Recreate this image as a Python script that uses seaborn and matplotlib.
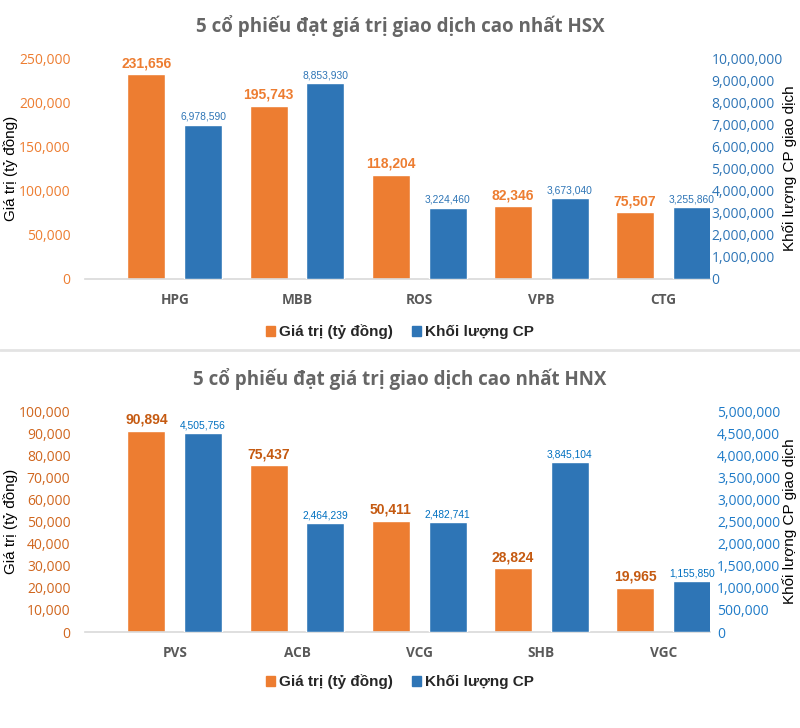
import matplotlib
matplotlib.use('Agg')
import matplotlib.pyplot as plt
from matplotlib.lines import Line2D
from matplotlib.patches import Patch
from matplotlib.ticker import FuncFormatter, MultipleLocator
import numpy as np
import pandas as pd
import seaborn as sns

# ---- data ----
S_VAL = 'Giá trị (tỷ đồng)'
S_VOL = 'Khối lượng CP'

hsx_codes = ['HPG', 'MBB', 'ROS', 'VPB', 'CTG']
hsx_value = [231656, 195743, 118204, 82346, 75507]
hsx_volume = [6978590, 8853930, 3224460, 3673040, 3255860]

hnx_codes = ['PVS', 'ACB', 'VCG', 'SHB', 'VGC']
hnx_value = [90894, 75437, 50411, 28824, 19965]
hnx_volume = [4505756, 2464239, 2482741, 3845104, 1155850]

ORANGE = '#ED7D31'
BLUE = '#2E75B6'
GREY = '#595959'

sns.set_theme(style='white')
plt.rcParams['font.family'] = ['Open Sans', 'DejaVu Sans']

W, H = 800, 728
fig = plt.figure(figsize=(8, 7.28), dpi=100)

fmt = FuncFormatter(lambda v, p: f'{v:,.0f}')
LAB_FONT = 'Liberation Sans'


def long_df(codes, vals, series):
    other = S_VOL if series == S_VAL else S_VAL
    return pd.DataFrame({
        'ma': codes + codes,
        'series': [series] * len(codes) + [other] * len(codes),
        'v': list(vals) + [np.nan] * len(codes),
    })


def real_bars(a, n):
    # the container holding the drawn series (the NaN one is empty)
    for c in a.containers:
        if len(c) == n and all(np.isfinite(b.get_height()) for b in c):
            return c
    return None


def panel(top_px, zero_px, title, title_px, codes, vals, vols,
          lmax, lstep, rmax, rstep, lcol, rcol, lab_o, lab_b, legend_px, rpad):
    left, right = 85 / W, 710 / W
    ax = fig.add_axes([left, 1 - zero_px / H, right - left, (zero_px - top_px) / H])

    sns.barplot(data=long_df(codes, vals, S_VAL), x='ma', y='v', hue='series',
                hue_order=[S_VAL, S_VOL], palette=[ORANGE, BLUE], saturation=1,
                width=0.93, gap=0.333, errorbar=None, legend=False, ax=ax)
    ax2 = ax.twinx()
    sns.barplot(data=long_df(codes, vols, S_VOL), x='ma', y='v', hue='series',
                hue_order=[S_VAL, S_VOL], palette=[ORANGE, BLUE], saturation=1,
                width=0.93, gap=0.333, errorbar=None, legend=False, ax=ax2)

    ax.set_xlim(-0.735, 4.38)
    ax.set_ylim(0, lmax)
    ax2.set_ylim(0, rmax)
    ax.yaxis.set_major_locator(MultipleLocator(lstep))
    ax2.yaxis.set_major_locator(MultipleLocator(rstep))
    ax.yaxis.set_major_formatter(fmt)
    ax2.yaxis.set_major_formatter(fmt)

    for a in (ax, ax2):
        for s in a.spines.values():
            s.set_visible(False)
        a.set_xlabel('')
        a.set_ylabel('')
        a.grid(False)
    ax.spines['bottom'].set_visible(True)
    ax.spines['bottom'].set_color('#D9D9D9')
    ax.spines['bottom'].set_linewidth(1.2)

    ax.tick_params(axis='y', length=0, pad=10.5, labelsize=10, labelcolor=lcol)
    ax2.tick_params(axis='y', length=0, pad=rpad, labelsize=10, labelcolor=rcol)
    ax.tick_params(axis='x', length=0, pad=10, labelsize=9.8, labelcolor=GREY)
    for t in ax.get_xticklabels():
        t.set_fontweight('bold')

    mid = 1 - (top_px + zero_px) / 2 / H
    fig.text(11 / W, mid, 'Giá trị (tỷ đồng)', rotation=90, ha='center', va='center',
             fontsize=11, family=LAB_FONT, color='black')
    fig.text(790 / W, mid, 'Khối lượng CP giao dịch', rotation=90, ha='center',
             va='center', fontsize=11, family=LAB_FONT, color='black')

    c = real_bars(ax, len(codes))
    if c is not None:
        ax.bar_label(c, labels=[f'{v:,.0f}' for v in vals], padding=3,
                     fontsize=10, fontweight='bold', color=lab_o, family=LAB_FONT)
    c = real_bars(ax2, len(codes))
    if c is not None:
        ax2.bar_label(c, labels=[f'{v:,.0f}' for v in vols], padding=2,
                      fontsize=7.4, color=lab_b, family=LAB_FONT)

    fig.text(0.5, 1 - title_px / H, title, ha='center', va='center',
             fontsize=13.5, fontweight='bold', color='#666666')

    handles = [Patch(color=ORANGE, label=S_VAL), Patch(color=BLUE, label=S_VOL)]
    fig.legend(handles=handles, loc='center', bbox_to_anchor=(0.5, 1 - legend_px / H),
               ncol=2, frameon=False, handlelength=0.6, handleheight=0.6,
               handletextpad=0.3, columnspacing=1.2,
               prop={'family': LAB_FONT, 'weight': 'bold', 'size': 11})


panel(58, 279, '5 cổ phiếu đạt giá trị giao dịch cao nhất HSX', 26,
      hsx_codes, hsx_value, hsx_volume, 250000, 50000, 10000000, 1000000,
      ORANGE, BLUE, ORANGE, BLUE, 332, 1)
panel(411, 632, '5 cổ phiếu đạt giá trị giao dịch cao nhất HNX', 379,
      hnx_codes, hnx_value, hnx_volume, 100000, 10000, 5000000, 500000,
      '#D0661E', '#1F7BC8', '#C55A11', '#0070C0', 682, 5)

fig.add_artist(Line2D([0, 1], [1 - 350 / H, 1 - 350 / H], color='#E3E3E3',
                      linewidth=2, transform=fig.transFigure))

fig.savefig('out.png', dpi=100, facecolor='white')
